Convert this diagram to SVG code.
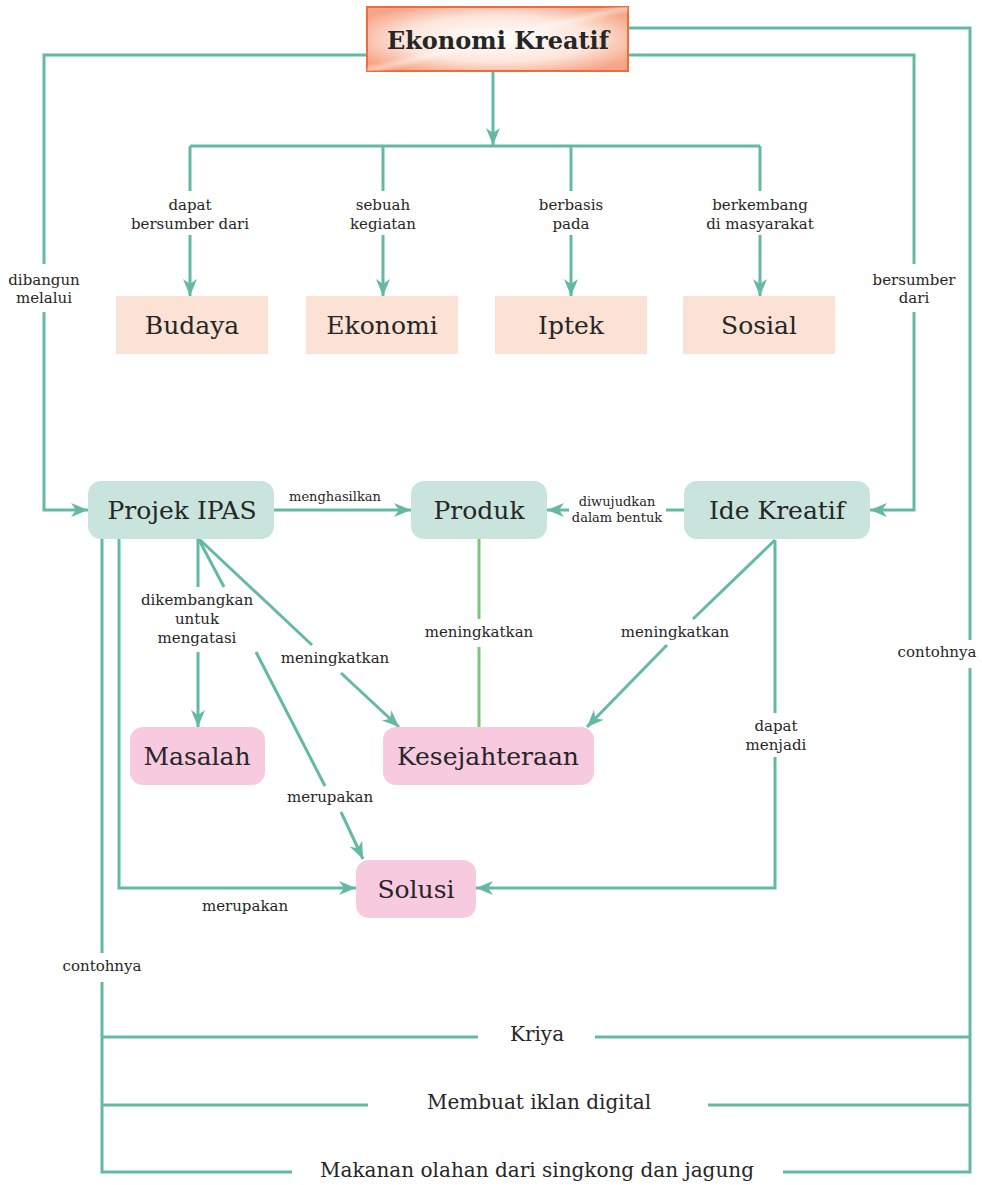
<svg xmlns="http://www.w3.org/2000/svg" width="982" height="1185" viewBox="0 0 982 1185">
<defs>
<style>
text{font-family:"DejaVu Serif","Liberation Serif",serif;fill:#262626;text-anchor:middle}
.lbl{font-size:15px}
.sm{font-size:13px}
.node{font-size:25px}
.bot{font-size:20px}
.title{font-size:24px;font-weight:bold}
.c{fill:none;stroke:#64b9a5;stroke-width:3}
.g{fill:none;stroke:#7dc57a;stroke-width:3}
.ar{marker-end:url(#arr)}
.peach{fill:#fce1d5}
.mint{fill:#c9e4dc}
.pink{fill:#f8cadf}
</style>
<marker id="arr" markerUnits="userSpaceOnUse" markerWidth="18" markerHeight="14" refX="17" refY="7" orient="auto">
<path d="M0,0 L17,7 L0,14 L5,7 Z" fill="#64b9a5"/>
</marker>
<radialGradient id="tg" cx="0.5" cy="0.5" r="0.6">
<stop offset="0" stop-color="#ffffff"/>
<stop offset="0.6" stop-color="#fde6dc"/>
<stop offset="1" stop-color="#f6a688"/>
</radialGradient>
<linearGradient id="sheen" x1="0" y1="0" x2="1" y2="1">
<stop offset="0" stop-color="#ffffff" stop-opacity="0"/>
<stop offset="0.45" stop-color="#ffffff" stop-opacity="0"/>
<stop offset="0.5" stop-color="#ffffff" stop-opacity="0.4"/>
<stop offset="0.55" stop-color="#ffffff" stop-opacity="0"/>
<stop offset="1" stop-color="#ffffff" stop-opacity="0"/>
</linearGradient>
</defs>
<rect width="982" height="1185" fill="#ffffff"/>

<g id="connectors">
<path class="c ar" d="M493,72 V145"/>
<path class="c" d="M190,146 H760"/>
<path class="c" d="M190,146 V191"/><path class="c ar" d="M190,235 V296"/>
<path class="c" d="M383,146 V191"/><path class="c ar" d="M383,235 V296"/>
<path class="c" d="M571,146 V191"/><path class="c ar" d="M571,235 V296"/>
<path class="c" d="M760,146 V191"/><path class="c ar" d="M760,235 V296"/>
<path class="c" d="M367,55 H44 V264"/><path class="c ar" d="M44,312 V510 H88"/>
<path class="c" d="M628,55 H914 V264"/><path class="c ar" d="M914,312 V510 H870"/>
<path class="c" d="M628,28 H970 V640"/><path class="c" d="M970,668 V1172 H783"/>
<path class="c ar" d="M274,510 H411"/>
<path class="c" d="M684,510 H666"/><path class="c ar" d="M569,510 H547"/>
<path class="g" d="M479,539 V619"/><path class="g" d="M479,647 V727"/>
<path class="c" d="M775,540 L693,619"/><path class="c ar" d="M667,645 L587,727"/>
<path class="c" d="M775,540 V713"/><path class="c ar" d="M775,757 V888 H476"/>
<path class="c" d="M198,538 V587"/><path class="c ar" d="M198,652 V727"/>
<path class="c" d="M198,538 L312,645"/><path class="c ar" d="M341,673 L399,727"/>
<path class="c" d="M198,538 L224,587"/><path class="c" d="M256,652 L325,786"/><path class="c ar" d="M341,812 L363,859"/>
<path class="c ar" d="M119,539 V888 H356"/>
<path class="c" d="M102,539 V953"/><path class="c" d="M102,982 V1172 H292"/>
<path class="c" d="M102,1037 H478"/><path class="c" d="M595,1037 H970"/>
<path class="c" d="M102,1105 H368"/><path class="c" d="M708,1105 H970"/>
</g>

<g id="connector-labels">
<text class="lbl" x="190" y="210">dapat</text><text class="lbl" x="190" y="229">bersumber dari</text>
<text class="lbl" x="383" y="210">sebuah</text><text class="lbl" x="383" y="229">kegiatan</text>
<text class="lbl" x="571" y="210">berbasis</text><text class="lbl" x="571" y="229">pada</text>
<text class="lbl" x="760" y="210">berkembang</text><text class="lbl" x="760" y="229">di masyarakat</text>
<text class="lbl" x="44" y="285">dibangun</text><text class="lbl" x="44" y="303">melalui</text>
<text class="lbl" x="914" y="285">bersumber</text><text class="lbl" x="914" y="303">dari</text>
<text class="lbl" x="937" y="657">contohnya</text>
<text class="sm" x="335" y="501">menghasilkan</text>
<text class="sm" x="617" y="506">diwujudkan</text><text class="sm" x="617" y="522">dalam bentuk</text>
<text class="lbl" x="479" y="637">meningkatkan</text>
<text class="lbl" x="675" y="637">meningkatkan</text>
<text class="lbl" x="776" y="731">dapat</text><text class="lbl" x="776" y="750">menjadi</text>
<text class="lbl" x="197" y="605">dikembangkan</text><text class="lbl" x="197" y="624">untuk</text><text class="lbl" x="197" y="643">mengatasi</text>
<text class="lbl" x="335" y="663">meningkatkan</text>
<text class="lbl" x="330" y="802">merupakan</text>
<text class="lbl" x="245" y="911">merupakan</text>
<text class="lbl" x="102" y="971">contohnya</text>
</g>

<g id="ekonomi-kreatif">
<rect x="367" y="7" width="261" height="64" fill="url(#tg)" stroke="#ef6a3c" stroke-width="2"/>
<rect x="367" y="7" width="261" height="64" fill="url(#sheen)"/>
<text class="title" x="498" y="49">Ekonomi Kreatif</text>
</g>
<g id="budaya"><rect class="peach" x="116" y="296" width="152" height="58"/><text class="node" x="192" y="334">Budaya</text></g>
<g id="ekonomi"><rect class="peach" x="306" y="296" width="152" height="58"/><text class="node" x="382" y="334">Ekonomi</text></g>
<g id="iptek"><rect class="peach" x="495" y="296" width="152" height="58"/><text class="node" x="571" y="334">Iptek</text></g>
<g id="sosial"><rect class="peach" x="683" y="296" width="152" height="58"/><text class="node" x="759" y="334">Sosial</text></g>

<g id="projek-ipas"><rect class="mint" x="88" y="481" width="186" height="58" rx="13"/><text class="node" x="182" y="519">Projek IPAS</text></g>
<g id="produk"><rect class="mint" x="411" y="481" width="136" height="58" rx="13"/><text class="node" x="479" y="519">Produk</text></g>
<g id="ide-kreatif"><rect class="mint" x="684" y="481" width="186" height="58" rx="13"/><text class="node" x="777" y="519">Ide Kreatif</text></g>

<g id="masalah"><rect class="pink" x="130" y="727" width="135" height="58" rx="13"/><text class="node" x="197" y="765">Masalah</text></g>
<g id="kesejahteraan"><rect class="pink" x="383" y="727" width="211" height="58" rx="13"/><text class="node" x="488" y="765">Kesejahteraan</text></g>
<g id="solusi"><rect class="pink" x="356" y="860" width="120" height="58" rx="13"/><text class="node" x="416" y="898">Solusi</text></g>

<g id="kriya"><text class="bot" x="537" y="1041">Kriya</text></g>
<g id="membuat-iklan"><text class="bot" x="539" y="1109">Membuat iklan digital</text></g>
<g id="makanan-olahan"><text class="bot" x="537" y="1177">Makanan olahan dari singkong dan jagung</text></g>
</svg>
